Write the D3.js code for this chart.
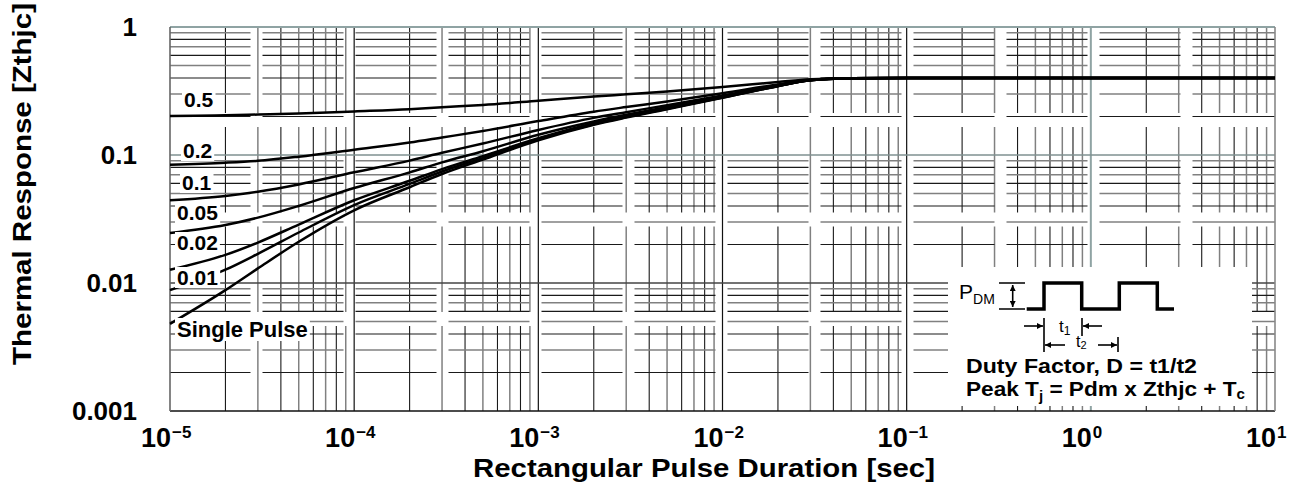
<!DOCTYPE html>
<html><head><meta charset="utf-8">
<script src="https://cdn.jsdelivr.net/npm/d3@7"></script>
<style>
html,body{margin:0;padding:0;background:#fff;}
svg{display:block;font-family:"Liberation Sans",Arial,Helvetica,sans-serif;}
</style></head><body>
<svg id="chart" width="1302" height="488"></svg>
<script>
// ---------------- data ----------------
const pulseTimes = [1e-5,2e-5,3e-5,5e-5,1e-4,2e-4,3e-4,5e-4,1e-3,2e-3,3e-3,5e-3,1e-2,2e-2,3e-2,5e-2,1e-1,1,10];
const zD05   = [0.202,0.204,0.207,0.211,0.219,0.228,0.236,0.246,0.265,0.286,0.298,0.314,0.340,0.372,0.391,0.398,0.400,0.400,0.400];
const zD02   = [0.084,0.087,0.090,0.097,0.110,0.125,0.137,0.154,0.184,0.218,0.237,0.262,0.304,0.356,0.386,0.398,0.400,0.400,0.400];
const zD01   = [0.0443,0.0479,0.0517,0.0589,0.0733,0.0904,0.104,0.123,0.157,0.195,0.216,0.245,0.292,0.350,0.385,0.397,0.400,0.400,0.400];
const zD005  = [0.0246,0.0284,0.0324,0.0400,0.0552,0.0732,0.0875,0.107,0.144,0.183,0.206,0.237,0.286,0.348,0.384,0.397,0.400,0.400,0.400];
const zD002  = [0.0127,0.0166,0.0207,0.0286,0.0443,0.0629,0.0776,0.098,0.135,0.177,0.200,0.231,0.282,0.346,0.383,0.397,0.400,0.400,0.400];
const zD001  = [0.0088,0.0127,0.0169,0.0248,0.0406,0.0594,0.0743,0.095,0.133,0.174,0.198,0.230,0.281,0.346,0.383,0.397,0.400,0.400,0.400];
const zSingle= [0.0048,0.0088,0.0130,0.0210,0.0370,0.0560,0.0710,0.092,0.130,0.172,0.196,0.228,0.280,0.345,0.383,0.397,0.400,0.400,0.400];
const seriesNames = ["0.5","0.2","0.1","0.05","0.02","0.01","Single Pulse"];
const seriesValues = [zD05,zD02,zD01,zD005,zD002,zD001,zSingle];
const xTickExponents = [-5,-4,-3,-2,-1,0,1];
const yTickValues = [1,0.1,0.01,0.001];
const yTickLabels = ["1","0.1","0.01","0.001"];
const gridMultipliers = [2,3,4,5,6,7,8,9];

// ---------------- layout ----------------
const L=170, R=1275, T=27, B=411;
const svg = d3.select("#chart");
const x = d3.scaleLog().domain([1e-5,10]).range([L,R]);
const y = d3.scaleLog().domain([0.001,1]).range([B,T]);

const g = svg.append("g");

// gap lattice of the scanned graph paper
const xGaps = d3.range(0,13).map(k=>256.5+93*k).filter(v=>v>L && v<R);
const yGaps = d3.range(0,4).map(k=>120+99.5*k).filter(v=>v>T && v<B);
function segments(a,b,gaps,hw){
  const segs=[]; let s=a;
  gaps.forEach(c=>{ const g0=c-hw, g1=c+hw; if(g1<=s||g0>=b) return; if(g0>s) segs.push([s,g0]); s=Math.max(s,g1);});
  if(s<b) segs.push([s,b]);
  return segs;
}

// vertical minor grid lines
const xMinor=[]; for(let e=-5;e<=0;e++) gridMultipliers.forEach(m=>xMinor.push({v:m*Math.pow(10,e),m}));
xMinor.forEach(d=>{
  const px=x(d.v);
  segments(T,B,yGaps,7).forEach(s=>{
    g.append("line").attr("x1",px).attr("x2",px).attr("y1",s[0]).attr("y2",s[1])
     .attr("stroke",d.m%2===0?"#1a1a1a":"#808080").attr("stroke-width",d.m%2===0?1.1:1.5);
  });
});
// horizontal minor grid lines
const yMinor=[]; for(let e=-3;e<=-1;e++) gridMultipliers.forEach(m=>yMinor.push({v:m*Math.pow(10,e),m}));
yMinor.forEach(d=>{
  const py=y(d.v);
  segments(L,R,xGaps,6).forEach(s=>{
    g.append("line").attr("y1",py).attr("y2",py).attr("x1",s[0]).attr("x2",s[1])
     .attr("stroke",d.m%2===0?"#1a1a1a":"#808080").attr("stroke-width",d.m%2===0?1.1:1.5);
  });
});
// decade lines
[-4,-3,-2,-1,0].forEach(e=>{
  const px=x(Math.pow(10,e));
  g.append("line").attr("x1",px).attr("x2",px).attr("y1",T).attr("y2",B)
   .attr("stroke",e===0?"#8fa3a3":"#111").attr("stroke-width",e===0?2:1.2);
});
[0.1,0.01].forEach(v=>{
  const py=y(v);
  g.append("line").attr("x1",L).attr("x2",R).attr("y1",py).attr("y2",py)
   .attr("stroke",v===0.1?"#7f9090":"#444").attr("stroke-width",1.6);
});
// frame
g.append("line").attr("x1",L).attr("x2",R).attr("y1",T).attr("y2",T).attr("stroke","#8fa3a3").attr("stroke-width",2);
g.append("line").attr("x1",L).attr("x2",R).attr("y1",B).attr("y2",B).attr("stroke","#111").attr("stroke-width",1.6);
g.append("line").attr("x1",L).attr("x2",L).attr("y1",T).attr("y2",B).attr("stroke","#666").attr("stroke-width",1.6);
g.append("line").attr("x1",R).attr("x2",R).attr("y1",T).attr("y2",B).attr("stroke","#888").attr("stroke-width",1.6);

// curves
const line = d3.line().x((d,i)=>x(pulseTimes[i])).y(d=>y(d)).curve(d3.curveMonotoneX);
seriesValues.forEach(vals=>{
  g.append("path").attr("d",line(vals)).attr("fill","none").attr("stroke","#000").attr("stroke-width",2.5);
});

// curve labels with white backgrounds
const labelPos = [[184,107],[183,158],[182,190],[177,220],[177,250],[177,285],[177,337]];
seriesNames.forEach((n,i)=>{
  const lg=g.append("g");
  const t=lg.append("text").attr("x",labelPos[i][0]).attr("y",labelPos[i][1])
    .attr("font-size",i===6?22:21).attr("font-weight","bold").text(n);
  const bb=t.node().getBBox();
  lg.insert("rect","text").attr("x",bb.x-2).attr("y",bb.y+1).attr("width",bb.width+4).attr("height",bb.height-2).attr("fill","#fff");
});

// inset box
const ins = g.append("g");
ins.append("rect").attr("x",948).attr("y",267).attr("width",304).attr("height",139).attr("fill","#fff");
const defs = svg.append("defs");
defs.append("marker").attr("id","ah").attr("viewBox","0 0 10 10").attr("refX",10).attr("refY",5)
  .attr("markerWidth",7).attr("markerHeight",6).attr("markerUnits","userSpaceOnUse").attr("orient","auto-start-reverse")
  .append("path").attr("d","M0,0L10,5L0,10Z").attr("fill","#000");
ins.append("path").attr("d","M1026.7,309H1044V283H1081.7V309H1119.3V283H1157.3V309H1174")
  .attr("fill","none").attr("stroke","#000").attr("stroke-width",3.5).attr("stroke-linejoin","miter");
ins.append("text").attr("x",959).attr("y",299).attr("font-size",21).text("P")
  .append("tspan").attr("font-size",14).attr("dy",5).text("DM");
ins.append("path").attr("d","M999,283H1025M999,309H1025").attr("stroke","#000").attr("stroke-width",1.6);
ins.append("line").attr("x1",1012.7).attr("x2",1012.7).attr("y1",285).attr("y2",307)
  .attr("stroke","#000").attr("stroke-width",1.6).attr("marker-start","url(#ah)").attr("marker-end","url(#ah)");
// t1 / t2 rows
ins.append("path").attr("d","M1044,318V352M1082,318V336M1118,337V352").attr("stroke","#000").attr("stroke-width",1.6);
ins.append("line").attr("x1",1024).attr("x2",1043).attr("y1",326).attr("y2",326).attr("stroke","#000").attr("stroke-width",1.6).attr("marker-end","url(#ah)");
ins.append("line").attr("x1",1102).attr("x2",1083).attr("y1",326).attr("y2",326).attr("stroke","#000").attr("stroke-width",1.6).attr("marker-end","url(#ah)");
ins.append("line").attr("x1",1065).attr("x2",1045).attr("y1",345).attr("y2",345).attr("stroke","#000").attr("stroke-width",1.6).attr("marker-end","url(#ah)");
ins.append("line").attr("x1",1098).attr("x2",1117).attr("y1",345).attr("y2",345).attr("stroke","#000").attr("stroke-width",1.6).attr("marker-end","url(#ah)");
ins.append("text").attr("x",1059).attr("y",332).attr("font-size",17).text("t")
  .append("tspan").attr("font-size",12).attr("dy",3).text("1");
ins.append("text").attr("x",1076).attr("y",347).attr("font-size",16).text("t")
  .append("tspan").attr("font-size",11).attr("dy",2).text("2");
ins.append("text").attr("x",966).attr("y",373).attr("font-size",21).attr("font-weight","bold")
  .attr("textLength",231).attr("lengthAdjust","spacingAndGlyphs").text("Duty Factor, D = t1/t2");
const pk = ins.append("text").attr("x",966).attr("y",396).attr("font-size",21).attr("font-weight","bold")
  .attr("textLength",279).attr("lengthAdjust","spacingAndGlyphs");
pk.append("tspan").text("Peak T");
pk.append("tspan").attr("font-size",14).attr("dy",5).text("j");
pk.append("tspan").attr("dy",-5).text(" = Pdm x Zthjc + T");
pk.append("tspan").attr("font-size",14).attr("dy",3).text("c");

// y tick labels
yTickValues.forEach((v,i)=>{
  svg.append("text").attr("x",137).attr("y",y(v)).attr("dy","0.36em").attr("text-anchor","end")
    .attr("font-size",26).attr("font-weight","bold").text(yTickLabels[i]);
});
// x tick labels
xTickExponents.forEach(e=>{
  const px=x(Math.pow(10,e));
  svg.append("text").attr("x",px+1).attr("y",447).attr("text-anchor","end")
    .attr("font-size",27).attr("font-weight","bold").text("10");
  svg.append("text").attr("x",px+2).attr("y",438).attr("text-anchor","start")
    .attr("font-size",17).attr("font-weight","bold").text(e<0?"\u2212"+(-e):String(e));
});
// axis titles
svg.append("text").attr("x",704).attr("y",477).attr("text-anchor","middle").attr("font-size",25).attr("font-weight","bold")
  .attr("textLength",462).attr("lengthAdjust","spacingAndGlyphs").text("Rectangular Pulse Duration [sec]");
svg.append("text").attr("transform","translate(31,184) rotate(-90)").attr("text-anchor","middle").attr("font-size",26).attr("font-weight","bold")
  .attr("textLength",362).attr("lengthAdjust","spacingAndGlyphs").text("Thermal Response [Zthjc]");
</script>
</body></html>
